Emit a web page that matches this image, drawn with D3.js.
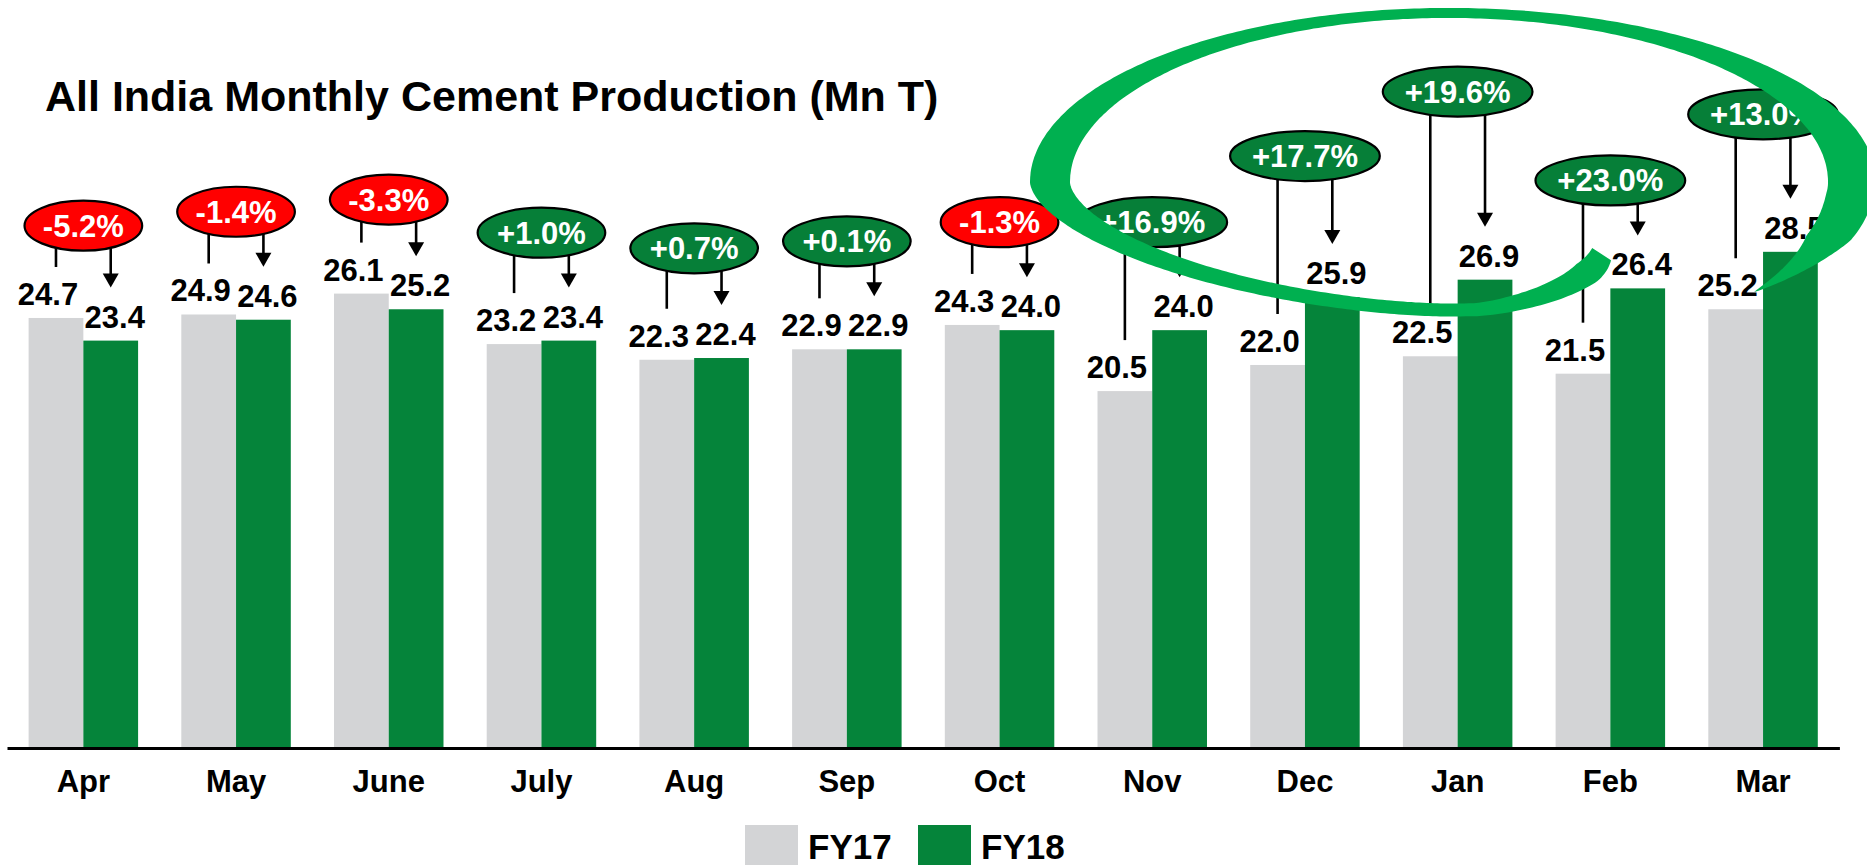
<!DOCTYPE html>
<html><head><meta charset="utf-8">
<script src="https://cdn.jsdelivr.net/npm/d3@7"></script>
<style>
html,body{margin:0;padding:0;background:#fff;}
svg{display:block;font-family:Arial,"Liberation Sans",sans-serif;}
</style></head><body>
<svg id="chart" width="1867" height="865"></svg>
<script>
// ---------- data ----------
const months = ["Apr","May","June","July","Aug","Sep","Oct","Nov","Dec","Jan","Feb","Mar"];
const fy17 = [24.7, 24.9, 26.1, 23.2, 22.3, 22.9, 24.3, 20.5, 22.0, 22.5, 21.5, 25.2];
const fy18 = [23.4, 24.6, 25.2, 23.4, 22.4, 22.9, 24.0, 24.0, 25.9, 26.9, 26.4, 28.5];
const growthLabels = ["-5.2%","-1.4%","-3.3%","+1.0%","+0.7%","+0.1%","-1.3%","+16.9%","+17.7%","+19.6%","+23.0%","+13.0%"];
// height (in Mn T units) at which each growth callout sits
const calloutLevel = [30.0, 30.8, 31.5, 29.6, 28.7, 29.1, 30.2, 30.2, 34.0, 37.7, 32.6, 36.4];
const seriesNames = ["FY17","FY18"];
const titleText = "All India Monthly Cement Production (Mn T)";

// ---------- setup ----------
const W = 1867, H = 865;
const FONT = "Arial, 'Liberation Sans', sans-serif";
const svg = d3.select("#chart");
svg.append("rect").attr("width", W).attr("height", H).attr("fill", "#fff");

const x = d3.scaleBand().domain(months).range([7, 1839.4]).paddingInner(0.283).paddingOuter(0.1415);
const xs = d3.scaleBand().domain(seriesNames).range([0, x.bandwidth()]);
const y = d3.scaleLinear().domain([0, 30]).range([748, 225.7]);
const color = d3.scaleOrdinal().domain(seriesNames).range(["#d3d4d6", "#05843a"]);

const rows = months.map((m, i) => ({month: m, FY17: fy17[i], FY18: fy18[i], growth: growthLabels[i], level: calloutLevel[i]}));

// ---------- bars ----------
const groups = svg.append("g").selectAll("g.grp").data(rows).join("g")
  .attr("class", "grp")
  .attr("transform", d => `translate(${x(d.month)},0)`);

groups.selectAll("rect").data(d => seriesNames.map(s => ({s, v: d[s]}))).join("rect")
  .attr("x", d => xs(d.s)).attr("width", xs.bandwidth())
  .attr("y", d => y(d.v)).attr("height", d => y(0) - y(d.v))
  .attr("fill", d => color(d.s));

// ---------- connectors ----------
const conn = svg.append("g");
rows.forEach(d => {
  const gx = x(d.month) + xs("FY17") + xs.bandwidth() / 2;
  const rx = x(d.month) + xs("FY18") + xs.bandwidth() / 2;
  const cy = y(d.level);
  conn.append("line").attr("x1", gx).attr("x2", gx).attr("y1", cy).attr("y2", y(d.FY17) - 51)
    .attr("stroke", "#000").attr("stroke-width", 2.6);
  const tip = y(d.FY18) - 53;
  conn.append("line").attr("x1", rx).attr("x2", rx).attr("y1", cy).attr("y2", tip - 12)
    .attr("stroke", "#000").attr("stroke-width", 2.6);
  conn.append("path").attr("d", `M${rx - 8},${tip - 14}L${rx + 8},${tip - 14}L${rx},${tip}Z`).attr("fill", "#000");
});

// ---------- growth bubbles ----------
const bub = svg.append("g").selectAll("g.bub").data(rows).join("g")
  .attr("class", "bub")
  .attr("transform", d => `translate(${x(d.month) + x.bandwidth() / 2},${y(d.level)})`);
const ell = bub.append("ellipse").attr("cx", 0).attr("cy", 0).attr("ry", 25)
  .attr("fill", d => d.growth.startsWith("-") ? "#ff0000" : "#067f38")
  .attr("stroke", "#000").attr("stroke-width", 2.2);
const btxt = bub.append("text").attr("x", 0).attr("y", 11).attr("text-anchor", "middle")
  .attr("font-family", FONT).attr("font-size", 31).attr("font-weight", "bold").attr("fill", "#fff")
  .text(d => d.growth);
btxt.each(function (d) { d._w = this.getComputedTextLength(); });
ell.attr("rx", d => 1.28 * d._w / 2 + 7);

// ---------- axis ----------
const ax = svg.append("g").attr("transform", `translate(0,${y(0)})`)
  .call(d3.axisBottom(x).tickSize(0).tickSizeOuter(0).tickPadding(22));
ax.attr("font-family", FONT).attr("font-size", 31);
ax.select(".domain").attr("stroke", "#000").attr("stroke-width", 3);
ax.selectAll("text").attr("font-weight", "bold").attr("fill", "#000");

// ---------- title ----------
svg.append("text").attr("x", 45).attr("y", 111)
  .attr("font-family", FONT).attr("font-size", 43).attr("font-weight", "bold").attr("fill", "#000")
  .text(titleText);

// ---------- legend ----------
const legX = [745, 918];
const leg = svg.append("g").selectAll("g").data(seriesNames).join("g")
  .attr("transform", (d, i) => `translate(${legX[i]},825)`);
leg.append("rect").attr("width", 53).attr("height", 60).attr("fill", d => color(d));
leg.append("text").attr("x", 63).attr("y", 34)
  .attr("font-family", FONT).attr("font-size", 35).attr("font-weight", "bold").attr("fill", "#000")
  .text(d => d);

// ---------- highlight swoosh ----------
const step = x.step();
const sw = {
  cx: x("Jan") + x.bandwidth() / 2 - 0.0635 * step,
  cy: y(32.51),
  aL: 2.606 * step, aR: 2.646 * step,
  bT: y(0) - y(9.71), bB: y(0) - y(7.35)
};
const t0 = 56, t1 = 408.6, N = 480;
const outer = [], inner = [];
for (let k = 0; k <= N; k++) {
  const t = t0 + (t1 - t0) * k / N;
  const r = t * Math.PI / 180;
  let s = 1, extra = 0;
  if (t < 86) {
    const u = (t - t0) / 30;
    s = 0.68 + 0.32 * (1 - Math.pow(1 - u, 1.3));
    extra = 4 * (1 - u);
  } else if (t > 365) {
    const u = (t - 365) / (t1 - 365);
    s = 1 + 0.146 * Math.pow(u, 1.7);
  }
  let f = 1;
  if (t < t0 + 8) f = 0.7 + 0.3 * (t - t0) / 8;
  if (t > 385) f = Math.pow(Math.max(0, (t1 - t) / (t1 - 385)), 0.8);
  const C = Math.cos(r), S = Math.sin(r);
  let X = C, Y = S;
  if (C < 0 && S > 0) { X = -Math.pow(-C, 2 / 1.7); Y = Math.pow(S, 2 / 1.7); }
  const a = C < 0 ? sw.aL : sw.aR;
  const b = S < 0 ? sw.bT : sw.bB;
  const hx = (C < 0 ? 20 : 24) * f;
  const hy = ((S < 0 ? 5 : 6.5) + extra) * f;
  outer.push([sw.cx + (a * s + hx) * X, sw.cy + (b * s + hy) * Y]);
  inner.push([sw.cx + (a * s - hx) * X, sw.cy + (b * s - hy) * Y]);
}
const pts = outer.concat(inner.reverse());
svg.append("path")
  .attr("d", "M" + pts.map(p => p[0].toFixed(1) + "," + p[1].toFixed(1)).join("L") + "Z")
  .attr("fill", "#00b050");

// ---------- value labels (on top) ----------
groups.raise();
groups.selectAll("text.val").data(d => seriesNames.map(s => ({s, v: d[s]}))).join("text")
  .attr("class", "val")
  .attr("x", d => xs(d.s) + xs.bandwidth() / 2 + (d.s === "FY17" ? -8 : 4))
  .attr("y", d => y(d.v) - 13)
  .attr("text-anchor", "middle")
  .attr("font-family", FONT).attr("font-size", 31).attr("font-weight", "bold").attr("fill", "#000")
  .text(d => d.v.toFixed(1));
</script></body></html>
